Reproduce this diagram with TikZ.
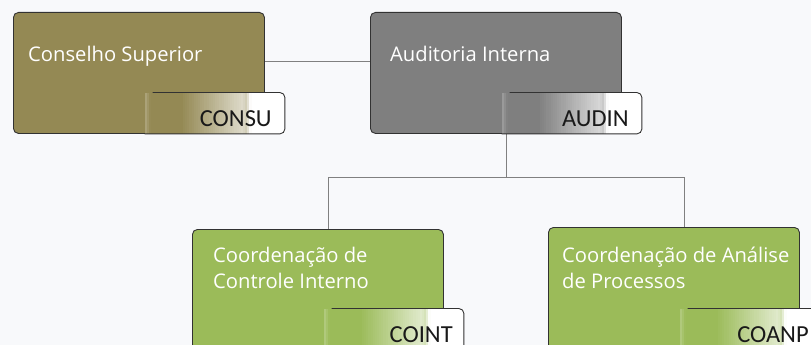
\documentclass[tikz,border=0pt]{standalone}
\usepackage{fontspec}
\setmainfont{Open Sans}
\newfontfamily\tagfont{Carlito}
\usetikzlibrary{calc}
\usetikzlibrary{positioning}

\definecolor{bgc}{RGB}{248,249,251}
\definecolor{olivec}{RGB}{148,137,84}
\definecolor{greyc}{RGB}{127,127,127}
\definecolor{greenc}{RGB}{155,187,89}
\definecolor{linec}{RGB}{128,128,128}
\definecolor{edgec}{RGB}{50,50,50}

\tikzset{
  box/.style={draw=edgec, line width=0.9pt, rounded corners=5pt, anchor=north west,
    minimum width=251pt, minimum height=121pt, inner sep=0pt},
  lbl/.style={text=white, anchor=base west, align=left, inner sep=0pt,
    font=\fontsize{20.2}{26}\selectfont},
  tag/.style={fill=white, anchor=south east, minimum width=140pt, minimum height=41pt, inner sep=0pt},
  tagline/.style={draw=edgec, line width=0.9pt, rounded corners=5pt},
  tagtxt/.style={anchor=base east, inner sep=0pt, text=black!90,
    font=\tagfont\fontsize{24.5}{26}\selectfont},
  conn/.style={draw=linec, line width=1pt}
}

\begin{document}
\begin{tikzpicture}[x=1pt, y=-1pt]
  \fill[bgc] (0,0) rectangle (811,345);
  \clip (0,0) rectangle (811,345);

  \coordinate (split) at (506,177);

  % boxes
  \node[box, fill=olivec] (consu) at (13,12) {};
  \node[box, fill=greyc] (audin) at (370,12) {};
  \node[box, fill=greenc, minimum height=120pt] (coint) at (192,229) {};
  \node[box, fill=greenc, minimum height=122pt] (coanp) at (548,227) {};

  \node[lbl] (consuL) at ($(consu.north west)+(15,50)$) {Conselho Superior};
  \node[lbl] (audinL) at ($(audin.north west)+(20,50)$) {Auditoria Interna};
  \node[lbl] (cointL) at ($(coint.north west)+(21,59)$) {Coordenação de\\Controle Interno};
  \node[lbl] (coanpL) at ($(coanp.north west)+(14,61)$) {Coordenação de Análise\\de Processos};

  % connectors
  \draw[conn] (consu.east |- consuL.base) -- (audin.west |- consuL.base);
  \draw[conn] (audin.south -| split) -- (split);
  \draw[conn] (split) -| ($(coint.north)+(11,0)$);
  \draw[conn] (split) -| ($(coanp.north)+(11,0)$);

  % tags
  \node[tag] (consuT) at ($(consu.south east)+(20,0)$) {};
  \node[tag] (audinT) at ($(audin.south east)+(20,0)$) {};
  \node[tag] (cointT) at ($(coint.south east)+(20,0)$) {};
  \node[tag] (coanpT) at ($(coanp.south east)+(20,0)$) {};

  % fade from box colour to white, in thin strips
  \foreach \t/\c in {consuT/olivec, audinT/greyc, cointT/greenc, coanpT/greenc} {
    \foreach \i in {0,...,50} {
      \pgfmathsetmacro\f{(\i+0.5)/50*0.765}
      \pgfmathsetmacro\w{\f<0.04 ? 25*(1-\f/0.04) : (\f<0.27 ? 0 : (\f<0.70 ? 68*(\f-0.27)/0.43 : (\f<0.73 ? 68-12*(\f-0.70)/0.03 : 56+44*(\f-0.73)/0.03)))}
      \pgfmathtruncatemacro\pc{max(0,100-\w)}
      \fill[\c!\pc!white] ($(\t.south west)+(\i*2.14,0)$) rectangle ($(\t.south west)+(\i*2.14+2.4,-41)$);
    }
  }

  \draw[tagline] ($(consuT.north west)+(8,0)$) -- (consuT.north east) -- (consuT.south east) -- (consuT.south west);
  \draw[tagline] ($(audinT.north west)+(8,0)$) -- (audinT.north east) -- (audinT.south east) -- (audinT.south west);
  \draw[tagline] ($(cointT.north west)+(8,0)$) -- (cointT.north east) -- (cointT.south east) -- (cointT.south west);
  \draw[tagline] ($(coanpT.north west)+(8,0)$) -- (coanpT.north east) -- (coanpT.south east) -- (coanpT.south west);

  \node[tagtxt] (consuN) at ($(consuT.south east)+(-13,-7)$) {CONSU};
  \node[tagtxt] (audinN) at ($(audinT.south east)+(-13,-7)$) {AUDIN};
  \node[tagtxt] (cointN) at ($(cointT.south east)+(-11,-7)$) {COINT};
  \node[tagtxt] (coanpN) at ($(coanpT.south east)+(-11,-7)$) {COANP};
\end{tikzpicture}
\end{document}
